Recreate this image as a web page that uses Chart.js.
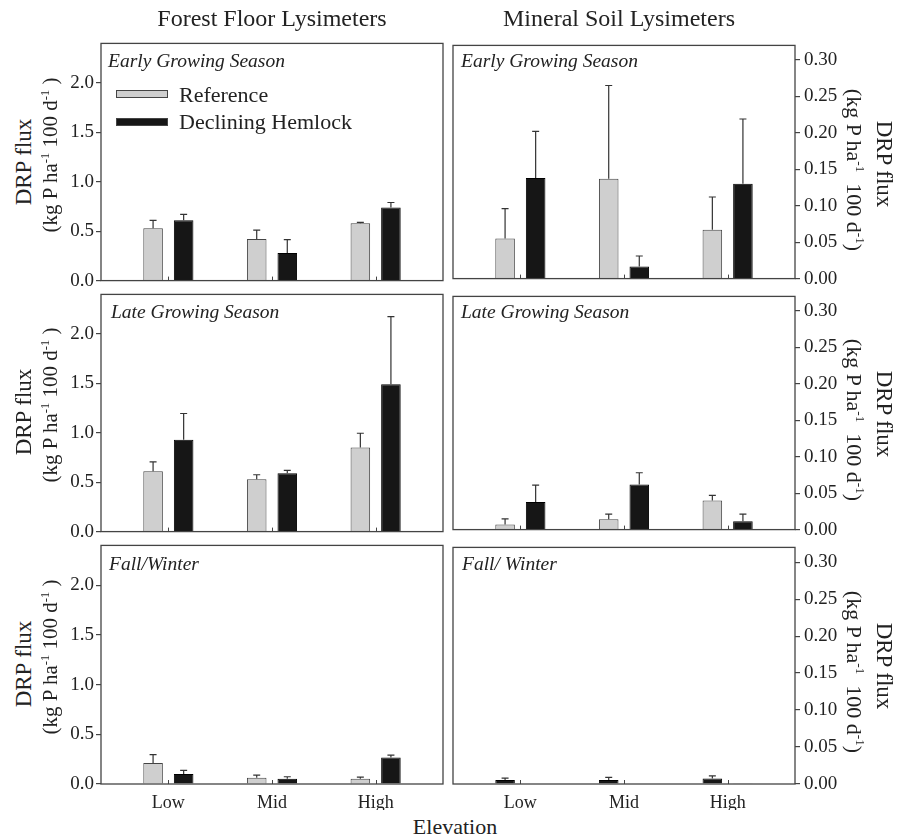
<!DOCTYPE html>
<html>
<head>
<meta charset="utf-8">
<script src="https://cdn.jsdelivr.net/npm/chart.js@4/dist/chart.umd.min.js"></script>
<style>
  body { margin: 0; background: #fff; }
  #wrap { position: relative; width: 897px; height: 835px; font-family: 'Liberation Serif', 'Times New Roman', serif; color: #222; }
  canvas { position: absolute; }
  .t { position: absolute; white-space: nowrap; line-height: 1; }
  .rotL { transform: translate(-50%, -50%) rotate(-90deg); }
  .rotR { transform: translate(-50%, -50%) rotate(90deg); }
  .ctr { transform: translate(-50%, -50%); }
  .lab { font-style: italic; font-size: 19.5px; transform: translateY(-50%); }
  sup { font-size: 0.6em; }
  .sw { position: absolute; width: 50px; height: 6px; border: 1px solid #444; }
</style>
</head>
<body>
<div id="wrap">
  <canvas id="c1" width="392" height="264" style="left:55px;top:30px"></canvas>
  <canvas id="c2" width="400" height="264" style="left:449px;top:30px"></canvas>
  <canvas id="c3" width="392" height="264" style="left:55px;top:281px"></canvas>
  <canvas id="c4" width="400" height="264" style="left:449px;top:281px"></canvas>
  <canvas id="c5" width="392" height="278" style="left:55px;top:532px"></canvas>
  <canvas id="c6" width="400" height="278" style="left:449px;top:532px"></canvas>

  <div class="t ctr" style="left:272px;top:18px;font-size:24px">Forest Floor Lysimeters</div>
  <div class="t ctr" style="left:619px;top:18px;font-size:24px">Mineral Soil Lysimeters</div>
  <div class="t ctr" style="left:455px;top:827px;font-size:22px">Elevation</div>

  <div class="t lab" style="left:108px;top:61px">Early Growing Season</div>
  <div class="t lab" style="left:461px;top:61px">Early Growing Season</div>
  <div class="t lab" style="left:111px;top:312px">Late Growing Season</div>
  <div class="t lab" style="left:461px;top:312px">Late Growing Season</div>
  <div class="t lab" style="left:109px;top:564px">Fall/Winter</div>
  <div class="t lab" style="left:462px;top:564px">Fall/ Winter</div>

  <div class="sw" style="left:116px;top:90px;background:#cfcfcf"></div>
  <div class="sw" style="left:116px;top:118px;background:#161616"></div>
  <div class="t" style="left:179px;top:84px;font-size:22px">Reference</div>
  <div class="t" style="left:179px;top:111px;font-size:22px">Declining Hemlock</div>
</div>

<script>
// categories and ticks
const elevations = ['Low', 'Mid', 'High'];
const leftTicks = [0, 0.5, 1.0, 1.5, 2.0];
const rightTicks = [0, 0.05, 0.10, 0.15, 0.20, 0.25, 0.30];

// Forest floor lysimeters (kg P ha-1 100 d-1)
const ffEarlyRef = [0.53, 0.42, 0.58];
const ffEarlyRefErr = [0.08, 0.09, 0.01];
const ffEarlyDec = [0.61, 0.28, 0.74];
const ffEarlyDecErr = [0.06, 0.135, 0.05];
const ffLateRef = [0.61, 0.53, 0.85];
const ffLateRefErr = [0.095, 0.045, 0.145];
const ffLateDec = [0.93, 0.59, 1.49];
const ffLateDecErr = [0.265, 0.03, 0.685];
const ffFallRef = [0.21, 0.063, 0.053];
const ffFallRefErr = [0.085, 0.027, 0.017];
const ffFallDec = [0.10, 0.053, 0.267];
const ffFallDecErr = [0.037, 0.02, 0.023];

// Mineral soil lysimeters
const msEarlyRef = [0.055, 0.137, 0.067];
const msEarlyRefErr = [0.041, 0.128, 0.045];
const msEarlyDec = [0.138, 0.0165, 0.13];
const msEarlyDecErr = [0.064, 0.0145, 0.089];
const msLateRef = [0.007, 0.0142, 0.04];
const msLateRefErr = [0.0076, 0.0071, 0.007];
const msLateDec = [0.038, 0.062, 0.0116];
const msLateDecErr = [0.023, 0.016, 0.0097];
const msFallRef = [0.0053, 0.0053, 0.0076];
const msFallRefErr = [0.0027, 0.0036, 0.0034];
const msFallDec = [0.0006, 0.0006, 0.0004];
const msFallDecErr = [0, 0, 0];

Chart.defaults.font.family = "'Liberation Serif', 'Times New Roman', serif";
Chart.defaults.font.size = 19;
Chart.defaults.color = '#222';

const GREY = '#cfcfcf';
const BLACK = '#161616';

// box round the plot area, plus small inward ticks at the elevations
const framePlugin = {
    id: 'frame',
    afterDraw(chart) {
        const { ctx, chartArea: a } = chart;
        const xs = chart.scales.x;
        ctx.save();
        ctx.strokeStyle = '#444';
        ctx.lineWidth = 1.3;
        ctx.strokeRect(a.left, a.top, a.right - a.left, a.bottom - a.top);
        ctx.lineWidth = 1;
        ctx.beginPath();
        elevations.forEach((_, i) => {
            const px = Math.round(xs.getPixelForValue(i + 1)) + 0.5;
            ctx.moveTo(px, a.bottom);
            ctx.lineTo(px, a.bottom - 4);
        });
        ctx.stroke();
        ctx.restore();
    }
};

// upper error bars only
const errorBarPlugin = {
    id: 'errbars',
    afterDatasetsDraw(chart) {
        const ctx = chart.ctx;
        const yScale = chart.scales.y;
        ctx.save();
        ctx.lineWidth = 1.2;
        ctx.strokeStyle = '#333';
        chart.data.datasets.forEach((ds, d) => {
            const meta = chart.getDatasetMeta(d);
            meta.data.forEach((bar, i) => {
                const e = ds.errors[i];
                if (!e) return;
                const v = ds.data[i].y;
                const y0 = yScale.getPixelForValue(v);
                const y1 = yScale.getPixelForValue(v + e);
                ctx.beginPath();
                ctx.moveTo(bar.x, y0);
                ctx.lineTo(bar.x, y1);
                ctx.moveTo(bar.x - 3.5, y1);
                ctx.lineTo(bar.x + 3.5, y1);
                ctx.stroke();
            });
        });
        ctx.restore();
    }
};

function makeSet(label, vals, errs, color) {
    return {
        label: label,
        data: vals.map((v, i) => ({ x: i + 1, y: v })),
        errors: errs,
        backgroundColor: color,
        borderColor: color === GREY ? '#444' : '#000',
        borderWidth: 1,
        borderSkipped: 'bottom',
        categoryPercentage: 0.59,
        barPercentage: 0.64
    };
}

function drawPanel(id, ref, refErr, dec, decErr, side, showX, swap) {
    const el = document.getElementById(id);
    const left = side === 'left';
    const ticks = left ? leftTicks : rightTicks;
    new Chart(el.getContext('2d'), {
        type: 'bar',
        data: {
            datasets: [
                makeSet('Reference', ref, refErr, swap ? BLACK : GREY),
                makeSet('Declining Hemlock', dec, decErr, swap ? GREY : BLACK)
            ]
        },
        options: {
            responsive: false,
            animation: false,
            layout: {
                padding: {
                    top: 12,
                    bottom: showX ? 0 : 12,
                    left: left ? 0 : 4,
                    right: left ? 4 : 0
                }
            },
            plugins: { legend: { display: false }, tooltip: { enabled: false } },
            scales: {
                x: {
                    type: 'linear',
                    min: 0.35,
                    max: 3.65,
                    offset: false,
                    display: showX,
                    grid: { display: false, drawTicks: false },
                    border: { display: false },
                    afterBuildTicks: s => { s.ticks = elevations.map((_, i) => ({ value: i + 1 })); },
                    afterFit: s => { s.height = showX ? 26 : 0; },
                    ticks: {
                        padding: 8,
                        autoSkip: false,
                        maxRotation: 0,
                        font: { size: 18 },
                        callback: v => elevations[v - 1]
                    }
                },
                y: {
                    position: side,
                    min: 0,
                    max: left ? 2.4 : 0.32,
                    grid: { drawOnChartArea: false, tickLength: 5, tickColor: '#444', lineWidth: 1.2 },
                    border: { display: false },
                    afterBuildTicks: s => { s.ticks = ticks.map(v => ({ value: v })); },
                    afterFit: s => { s.width = left ? 46 : 54; },
                    ticks: {
                        padding: left ? 2 : 4,
                        callback: v => v.toFixed(left ? 1 : 2)
                    }
                }
            }
        },
        plugins: [errorBarPlugin, framePlugin]
    });
}

drawPanel('c1', ffEarlyRef, ffEarlyRefErr, ffEarlyDec, ffEarlyDecErr, 'left', false, false);
drawPanel('c2', msEarlyRef, msEarlyRefErr, msEarlyDec, msEarlyDecErr, 'right', false, false);
drawPanel('c3', ffLateRef, ffLateRefErr, ffLateDec, ffLateDecErr, 'left', false, false);
drawPanel('c4', msLateRef, msLateRefErr, msLateDec, msLateDecErr, 'right', false, false);
drawPanel('c5', ffFallRef, ffFallRefErr, ffFallDec, ffFallDecErr, 'left', true, false);
// in the reference the mineral soil fall/winter bars have the shades swapped
drawPanel('c6', msFallRef, msFallRefErr, msFallDec, msFallDecErr, 'right', true, true);

// axis titles, one pair per row
const rowCentres = [162, 412, 664];
const wrap = document.getElementById('wrap');
rowCentres.forEach(cy => {
    wrap.insertAdjacentHTML('beforeend',
        '<div class="t rotL" style="left:23px;top:' + cy + 'px;font-size:23px">DRP flux</div>' +
        '<div class="t rotL" style="left:50px;top:' + (cy - 7) + 'px;font-size:21px">(kg P ha<sup>-1</sup> 100 d<sup>-1</sup> )</div>' +
        '<div class="t rotR" style="left:855px;top:' + (cy + 8) + 'px;font-size:22px">(kg P ha<sup>-1</sup>&nbsp; 100 d<sup>-1</sup>)</div>' +
        '<div class="t rotR" style="left:884px;top:' + (cy + 2) + 'px;font-size:23px">DRP flux</div>');
});
</script>
</body>
</html>
